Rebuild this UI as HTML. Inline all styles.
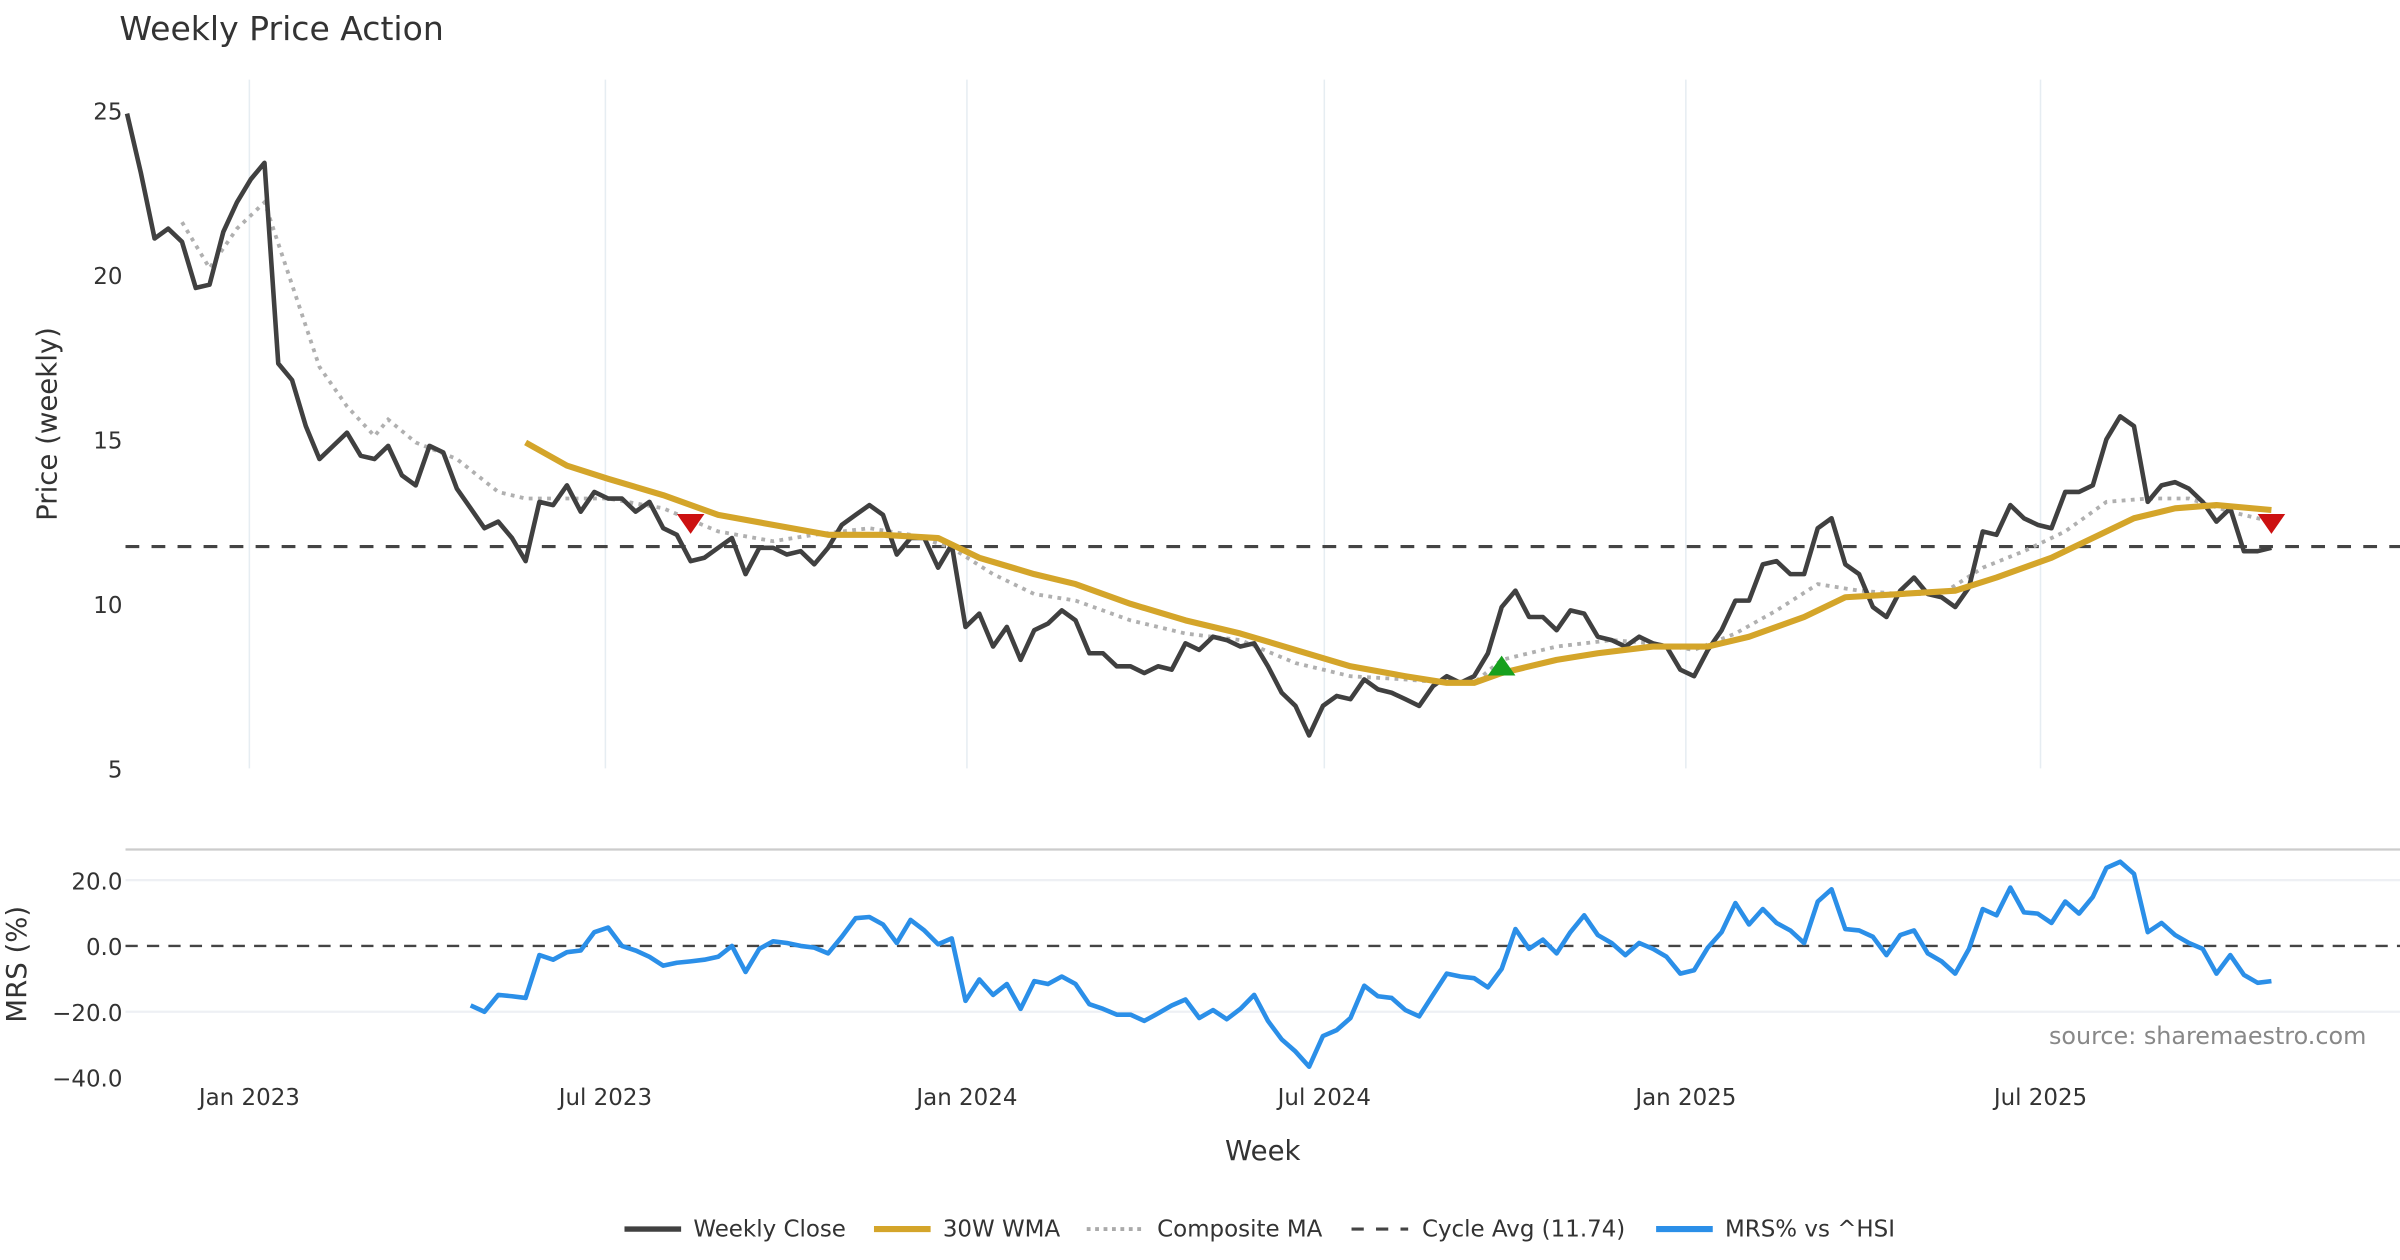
<!DOCTYPE html>
<html><head><meta charset="utf-8"><style>
html,body{margin:0;padding:0;background:#fff;}
svg{display:block;font-family:"DejaVu Sans","Liberation Sans",sans-serif;}
</style></head><body>
<svg id="chart" width="2400" height="1260" viewBox="0 0 1568 823.2" xmlns="http://www.w3.org/2000/svg">
<rect x="0" y="0" width="1568" height="823.2" fill="#fff"/>
<text x="78" y="26" font-size="21.6" fill="#333">Weekly Price Action</text>
<g id="grid"></g>
<g id="axes"></g>
<g id="series"></g>
<text transform="translate(37,277) rotate(-90)" text-anchor="middle" font-size="18" fill="#333">Price (weekly)</text>
<text transform="translate(17,630) rotate(-90)" text-anchor="middle" font-size="18" fill="#333">MRS (%)</text>
<text x="825" y="758" text-anchor="middle" font-size="18" fill="#333">Week</text>
<text x="1546" y="682" text-anchor="end" font-size="15.6" fill="#888">source: sharemaestro.com</text>
<g id="legend" font-size="15" fill="#333">
  <g><line x1="408" y1="803" x2="445" y2="803" stroke="#404040" stroke-width="3.5"/><text x="453" y="808">Weekly Close</text></g>
  <g><line x1="571" y1="803" x2="608" y2="803" stroke="#d4a52a" stroke-width="4"/><text x="616" y="808">30W WMA</text></g>
  <g><line x1="710" y1="803" x2="747" y2="803" stroke="#aaa" stroke-width="2.5" stroke-dasharray="2.5,3"/><text x="756" y="808">Composite MA</text></g>
  <g><line x1="883" y1="803" x2="920" y2="803" stroke="#444" stroke-width="2" stroke-dasharray="8,8"/><text x="929" y="808">Cycle Avg (11.74)</text></g>
  <g><line x1="1082" y1="803" x2="1119" y2="803" stroke="#2b8fe8" stroke-width="4"/><text x="1127" y="808">MRS% vs ^HSI</text></g>
</g>
</svg>
<script>
const closeValues=[24.9,23.1,21.1,21.4,21.0,19.6,19.7,21.3,22.2,22.9,23.4,17.3,16.8,15.4,14.4,14.8,15.2,14.5,14.4,14.8,13.9,13.6,14.8,14.6,13.5,12.9,12.3,12.5,12.0,11.3,13.1,13.0,13.6,12.8,13.4,13.2,13.2,12.8,13.1,12.3,12.1,11.3,11.4,11.7,12.0,10.9,11.7,11.7,11.5,11.6,11.2,11.7,12.4,12.7,13.0,12.7,11.5,12.0,12.0,11.1,11.8,9.3,9.7,8.7,9.3,8.3,9.2,9.4,9.8,9.5,8.5,8.5,8.1,8.1,7.9,8.1,8.0,8.8,8.6,9.0,8.9,8.7,8.8,8.1,7.3,6.9,6.0,6.9,7.2,7.1,7.7,7.4,7.3,7.1,6.9,7.5,7.8,7.6,7.8,8.5,9.9,10.4,9.6,9.6,9.2,9.8,9.7,9.0,8.9,8.7,9.0,8.8,8.7,8.0,7.8,8.6,9.2,10.1,10.1,11.2,11.3,10.9,10.9,12.3,12.6,11.2,10.9,9.9,9.6,10.4,10.8,10.3,10.2,9.9,10.5,12.2,12.1,13.0,12.6,12.4,12.3,13.4,13.4,13.6,15.0,15.7,15.4,13.1,13.6,13.7,13.5,13.1,12.5,12.9,11.6,11.6,11.7];
const wmaWeeks=[29,32,35,39,43,47,51,55,59,62,66,69,73,77,81,85,89,93,96,98,100,104,107,111,115,118,122,125,129,133,136,140,143,146,149,152,156];
const wmaValues=[14.9,14.2,13.8,13.3,12.7,12.4,12.1,12.1,12.0,11.4,10.9,10.6,10.0,9.5,9.1,8.6,8.1,7.8,7.6,7.6,7.9,8.3,8.5,8.7,8.7,9.0,9.6,10.2,10.3,10.4,10.8,11.4,12.0,12.6,12.9,13.0,12.85];
const compWeeks=[4,6,8,10,12,14,16,18,19,21,24,27,29,32,35,39,43,47,50,54,57,60,63,66,69,73,77,81,85,89,93,96,98,100,104,108,111,114,117,120,123,126,129,132,135,138,141,144,147,150,153,156];
const compValues=[21.6,20.2,21.4,22.2,19.7,17.2,16.0,15.1,15.6,14.9,14.4,13.4,13.2,13.2,13.2,12.9,12.2,11.9,12.1,12.3,12.1,11.7,10.9,10.3,10.1,9.5,9.1,8.9,8.2,7.8,7.7,7.6,7.6,8.3,8.7,8.9,8.8,8.6,9.1,9.8,10.6,10.4,10.3,10.3,11.1,11.6,12.2,13.1,13.2,13.2,12.8,12.5];
const mrsStart=25;
const mrsValues=[-18.1,-20,-14.9,-15.3,-15.8,-2.8,-4.2,-1.9,-1.4,4.2,5.6,0,-1.4,-3.3,-6,-5.1,-4.7,-4.2,-3.3,0,-7.9,-0.9,1.4,0.9,0,-0.5,-2.3,2.8,8.4,8.8,6.5,0.9,7.9,4.7,0.5,2.3,-16.7,-10.2,-14.9,-11.6,-19.1,-10.7,-11.6,-9.3,-11.6,-17.7,-19.1,-20.9,-20.9,-22.8,-20.5,-18.1,-16.3,-21.9,-19.5,-22.3,-19.1,-14.9,-22.8,-28.4,-32.1,-36.7,-27.4,-25.6,-21.9,-12.1,-15.3,-15.8,-19.5,-21.4,-14.9,-8.4,-9.3,-9.8,-12.6,-7,5.1,-0.9,1.9,-2.3,4.2,9.3,3.3,0.9,-2.8,0.9,-0.9,-3.3,-8.4,-7.4,-0.5,4.2,13,6.5,11.2,7,4.7,0.9,13.5,17.2,5.1,4.7,2.8,-2.8,3.3,4.7,-2.3,-4.7,-8.4,-0.9,11.2,9.3,17.7,10.2,9.8,7,13.5,9.8,14.9,23.7,25.6,21.9,4.2,7,3.3,0.9,-0.9,-8.4,-2.8,-8.8,-11.2,-10.7];
const cycleAvg=11.74;
const signalWeeks=[41,100,156];
const signalValues=[12.45,8.1,12.45];
const signalTypes=["sell","buy","sell"];
const priceTicks=[5,10,15,20,25];
const mrsTicks=[20,0,-20,-40];
const mrsTickLabels=["20.0","0.0","\u221220.0","\u221240.0"];
const dateTickWeeks=[8.9,34.8,61.1,87.1,113.4,139.2];
const dateTickLabels=["Jan 2023","Jul 2023","Jan 2024","Jul 2024","Jan 2025","Jul 2025"];

const NS="http://www.w3.org/2000/svg";
const N=closeValues.length;
const X0=83, X1=1484;
const xs=i=>X0+i*(X1-X0)/(N-1);
const yp=v=>72+(25-v)*21.5;
const ym=v=>618-v*2.15;
function mk(tag,attrs,parent){const e=document.createElementNS(NS,tag);for(const k in attrs)e.setAttribute(k,attrs[k]);parent.appendChild(e);return e;}
const grid=document.getElementById('grid'),axes=document.getElementById('axes'),ser=document.getElementById('series');

dateTickWeeks.forEach((w,k)=>{
  const x=xs(w);
  const g=mk('line',{x1:x,y1:52,x2:x,y2:502,stroke:'#e6edf2','stroke-width':1},grid);
  
  
  const t=mk('text',{x:x,y:722,'text-anchor':'middle','font-size':15,fill:'#333'},axes);
  t.textContent=dateTickLabels[k];
  
  
});
priceTicks.forEach(v=>{
  const t=mk('text',{x:80,y:yp(v)+6,'text-anchor':'end','font-size':15,fill:'#333'},axes);
  t.textContent=v;
  
  
});
const sep=mk('line',{x1:82,y1:555,x2:1568,y2:555,stroke:'#ccc','stroke-width':1.5},grid);


mrsTicks.forEach((v,k)=>{
  if(v!==0&&v>-40){const l=mk('line',{x1:82,y1:ym(v),x2:1568,y2:ym(v),stroke:'#eef0f4','stroke-width':1.5},grid);
  
  }
  const t=mk('text',{x:80,y:ym(v)+6,'text-anchor':'end','font-size':15,fill:'#333'},axes);
  t.textContent=mrsTickLabels[k];
  
  
});
const z=mk('line',{x1:82,y1:ym(0),x2:1568,y2:ym(0),stroke:'#444','stroke-width':1.5,'stroke-dasharray':'8,6'},ser);


const ca=mk('line',{x1:82,y1:yp(cycleAvg),x2:1568,y2:yp(cycleAvg),stroke:'#444','stroke-width':2,'stroke-dasharray':'9,8'},ser);



function pts(ws,vs,yf){return vs.map((v,k)=>xs(ws[k]).toFixed(1)+','+yf(v).toFixed(1)).join(' ');}
const comp=mk('polyline',{points:pts(compWeeks,compValues,yp),fill:'none',stroke:'#b0b0b0','stroke-width':2.5,'stroke-dasharray':'2.5,3.5'},ser);


const cl=mk('polyline',{points:pts(closeValues.map((_,i)=>i),closeValues,yp),fill:'none',stroke:'#404040','stroke-width':3,'stroke-linejoin':'round'},ser);


const wm=mk('polyline',{points:pts(wmaWeeks,wmaValues,yp),fill:'none',stroke:'#d4a52a','stroke-width':4,'stroke-linejoin':'round'},ser);


const mr=mk('polyline',{points:pts(mrsValues.map((_,i)=>i+mrsStart),mrsValues,ym),fill:'none',stroke:'#2b8fe8','stroke-width':3,'stroke-linejoin':'round'},ser);


signalWeeks.forEach((w,k)=>{
  const x=xs(w),y=yp(signalValues[k]);
  const p=signalTypes[k]==='sell'?`${x-9},${y-6} ${x+9},${y-6} ${x},${y+7}`:`${x-9},${y+6} ${x+9},${y+6} ${x},${y-7}`;
  const m=mk('polygon',{points:p,fill:signalTypes[k]==='sell'?'#cc1111':'#16a01e'},ser);
  
  
});
</script>
</body></html>
